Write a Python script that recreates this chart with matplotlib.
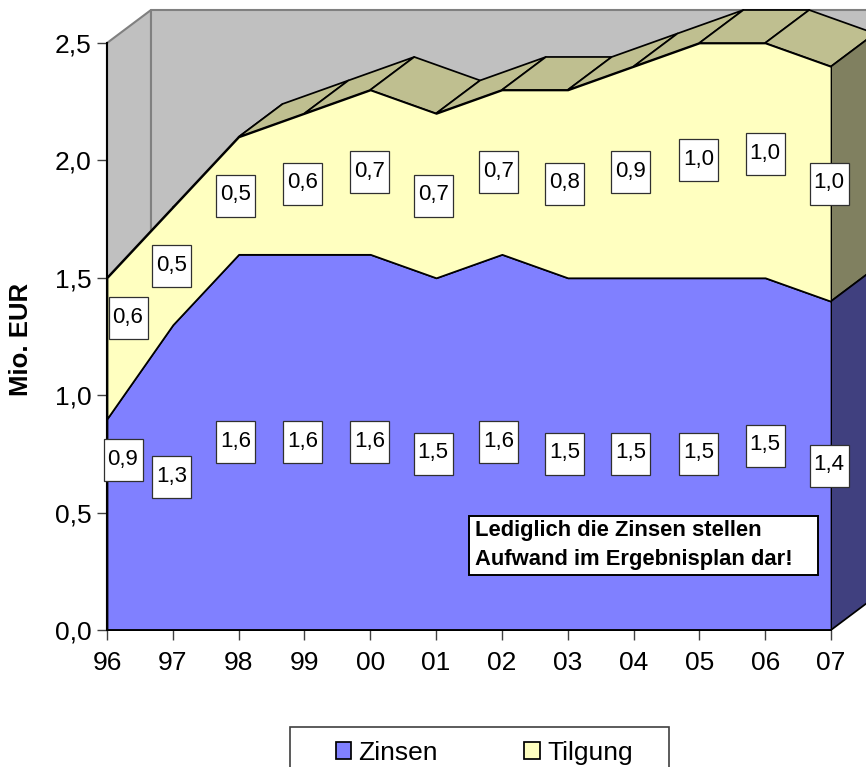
import matplotlib
matplotlib.use("Agg")
import matplotlib.pyplot as plt
from matplotlib.patches import Rectangle, Polygon
from matplotlib.transforms import ScaledTranslation

years = ["96", "97", "98", "99", "00", "01", "02", "03", "04", "05", "06", "07"]
zinsen = [0.9, 1.3, 1.6, 1.6, 1.6, 1.5, 1.6, 1.5, 1.5, 1.5, 1.5, 1.4]
tilgung = [0.6, 0.5, 0.5, 0.6, 0.7, 0.7, 0.7, 0.8, 0.9, 1.0, 1.0, 1.0]
yticks = [0.0, 0.5, 1.0, 1.5, 2.0, 2.5]

# label shifts in pixels, these labels were moved by hand in the original
zinsen_shift = [(16, 64), (-1, 0), (-3, 0), (-2, 0), (-1, 0), (-3, 0), (-3, 0), (-3, 0), (-3, 0), (-1, 0), (0, 8), (-2, 0)]
tilgung_shift = [(21, 30), (-1, 0), (-3, 0), (-2, 0), (-1, 0), (-3, 0), (-3, 0), (-3, 0), (-3, 0), (-1, 0), (0, 6), (-2, 0)]

BLUE = "#8080FF"
YELLOW = "#FFFFC0"
TOP = "#BFBF90"
SIDE_Y = "#808060"
SIDE_B = "#40407F"
WALL = "#C0C0C0"
EDGE = "#808080"

W, H = 866, 767
FONT = "Liberation Sans"
plt.rcParams["font.family"] = [FONT, "DejaVu Sans"]

fig = plt.figure(figsize=(W / 100, H / 100), dpi=100)
ax = fig.add_axes([107 / W, (H - 630) / H, 724 / W, 587 / H])
ax.set_xlim(0, 11)
ax.set_ylim(0, 2.5)
ax.patch.set_visible(False)

x = list(range(len(years)))
total = [a + b for a, b in zip(zinsen, tilgung)]
dx = 44 / 724 * 11  # depth of the fake 3d
dy = 33 / 587 * 2.5


def poly(pts, color, edge="black", lw=1.25, z=2):
    ax.add_patch(Polygon(pts, closed=True, facecolor=color, edgecolor=edge, linewidth=lw,
                         clip_on=False, zorder=z, joinstyle="round"))


# walls
poly([(0, 0), (dx, dy), (dx, 2.5 + dy), (0, 2.5)], WALL, EDGE, 1.5, 1)
poly([(dx, dy), (11 + dx, dy), (11 + dx, 2.5 + dy), (dx, 2.5 + dy)], WALL, EDGE, 1.5, 1)

# top faces, the steep ones get hidden by the front
for i in range(len(x) - 1):
    poly([(x[i], total[i]), (x[i + 1], total[i + 1]), (x[i + 1] + dx, total[i + 1] + dy), (x[i] + dx, total[i] + dy)], TOP)

# right side
poly([(11, zinsen[-1]), (11, total[-1]), (11 + dx, total[-1] + dy), (11 + dx, zinsen[-1] + dy)], SIDE_Y)
poly([(11, 0), (11, zinsen[-1]), (11 + dx, zinsen[-1] + dy), (11 + dx, dy)], SIDE_B)

# front areas
h1 = ax.fill_between(x, 0, zinsen, facecolor=BLUE, edgecolor="black", linewidth=1.25, zorder=3, label="Zinsen")
h2 = ax.fill_between(x, zinsen, total, facecolor=YELLOW, edgecolor="black", linewidth=1.25, zorder=3, label="Tilgung")


def label(xv, yv, value, shift):
    tr = ScaledTranslation(xv, yv, ax.transData)
    sx, sy = shift
    ax.add_patch(Rectangle((sx - 19.5, sy - 21), 39, 42, transform=tr, facecolor="white",
                           edgecolor="#303030", linewidth=0.9, clip_on=False, zorder=5))
    ax.annotate(("%.1f" % value).replace(".", ","), (xv, yv), xytext=(sx, sy + 1), textcoords="offset pixels",
                ha="center", va="center", fontsize=16, color="black", zorder=6, annotation_clip=False)


for i in x:
    label(x[i], zinsen[i] / 2, zinsen[i], zinsen_shift[i])
    label(x[i], zinsen[i] + tilgung[i] / 2, tilgung[i], tilgung_shift[i])

# note box
ax.add_patch(Rectangle((468.5 / W, (H - 574.5) / H), 349 / W, 58.5 / H, transform=fig.transFigure,
                       facecolor="white", edgecolor="black", linewidth=1.4, clip_on=False, zorder=5))
ax.text(475 / W, (H - 545) / H, "Lediglich die Zinsen stellen\nAufwand im Ergebnisplan dar!", transform=fig.transFigure,
        fontsize=15.8, fontweight="bold", ha="left", va="center", linespacing=1.5, zorder=6)

# axes
for s in ["top", "right"]:
    ax.spines[s].set_visible(False)
ax.spines["left"].set_linewidth(1.5)
ax.spines["bottom"].set_linewidth(1.3)
ax.spines["left"].set_zorder(4)
ax.spines["bottom"].set_zorder(4)
ax.set_xticks(x)
ax.set_xticklabels(years)
ax.set_yticks(yticks)
ax.set_yticklabels([("%.1f" % v).replace(".", ",") for v in yticks])
ax.tick_params(axis="both", labelsize=19, length=7, width=1.0, color="#404040", direction="out")
ax.tick_params(axis="x", pad=8)
ax.tick_params(axis="y", pad=4)
fig.text(21 / W, (H - 339) / H, "Mio. EUR", rotation=90, fontsize=18.5, fontweight="bold", ha="center", va="center")

# legend frame runs off the bottom of the picture
fig.add_artist(Rectangle((289.5 / W, -0.02), 379.5 / W, (H - 727) / H + 0.02, transform=fig.transFigure,
                         facecolor="white", edgecolor="#404040", linewidth=1.2))
leg = fig.legend(handles=[h1, h2], loc="center left", bbox_to_anchor=(335.5 / W, (H - 753) / H), ncols=2,
                 fontsize=19, frameon=False, handlelength=0.6, handleheight=0.6, handletextpad=0.27,
                 columnspacing=3.27, borderaxespad=0, borderpad=0)
leg.set_zorder(5)

fig.savefig("out.png", dpi=100)
